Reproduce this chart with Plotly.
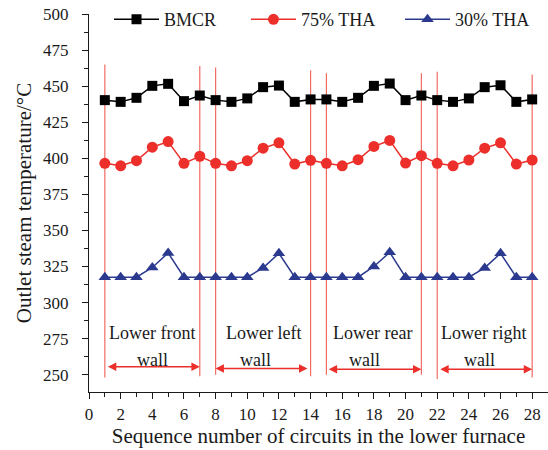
import plotly.graph_objects as go

# ---------------- data ----------------
circuits = list(range(1, 29))
bmcr = [440.3, 439.1, 441.9, 450.2, 451.6, 439.6, 443.5,
        440.3, 439.1, 441.5, 449.3, 450.4, 439.1, 440.8,
        440.8, 439.1, 441.9, 450.2, 451.8, 440.3, 443.5,
        440.3, 439.1, 441.5, 449.3, 450.6, 439.1, 440.8]
tha75 = [396.5, 394.8, 398.3, 407.7, 411.6, 396.5, 401.4,
         396.5, 394.8, 398.3, 407.0, 410.7, 396.0, 398.6,
         396.5, 394.8, 399.0, 408.2, 412.4, 396.7, 401.8,
         396.5, 394.8, 398.8, 407.0, 410.7, 396.0, 398.8]
tha30 = [317.6, 317.6, 317.6, 324.3, 334.4, 317.6, 317.6,
         317.6, 317.6, 317.6, 324.0, 334.1, 317.6, 317.6,
         317.6, 317.6, 317.6, 325.0, 334.8, 317.6, 317.6,
         317.6, 317.6, 317.6, 324.0, 334.1, 317.6, 317.6]
series_names = ["BMCR", "75% THA", "30% THA"]

# wall boundary markers
boundary_x = [1, 7, 8, 14, 15, 21, 22, 28]
boundary_top = [465, 464, 463, 461, 459, 459, 460, 458]
boundary_bottom = [248, 249, 250, 249, 250, 250, 247, 248]

# wall span arrows
wall_start = [1.1, 7.9, 15.05, 22.1]
wall_end = [7.0, 13.8, 21.0, 28.0]
wall_arrow_y = [255.5, 254.3, 253.8, 253.8]
wall_line1 = ["Lower front", "Lower left", "Lower rear", "Lower right"]
wall_line1_x = [4.0, 11.0, 17.9, 24.95]
wall_line2 = ["wall", "wall", "wall", "wall"]
wall_line2_x = [4.0, 10.5, 17.4, 24.7]

x_ticks = list(range(0, 29, 2))
y_ticks = list(range(250, 501, 25))

FONT = "Liberation Serif"
RED_LINE = "#f26b63"
RED = "#ec2f2a"
BLUE = "#2b3a8f"
TXT = "#1a1a1a"

legend_ids = ["legend", "legend2", "legend3"]
legend_x = [0.0436, 0.342, 0.6776]

fig = go.Figure()
fig.add_trace(go.Scatter(x=circuits, y=bmcr, name=series_names[0], mode="lines+markers",
                         line=dict(color="black", width=1.5), legend=legend_ids[0],
                         marker=dict(symbol="square", size=10, color="black")))
fig.add_trace(go.Scatter(x=circuits, y=tha75, name=series_names[1], mode="lines+markers",
                         line=dict(color=RED, width=1.5), legend=legend_ids[1],
                         marker=dict(symbol="circle", size=11, color=RED)))
fig.add_trace(go.Scatter(x=circuits, y=tha30, name=series_names[2], mode="lines+markers",
                         line=dict(color=BLUE, width=1.5), legend=legend_ids[2],
                         marker=dict(symbol="triangle-up", size=11, color=BLUE)))

shapes = []
for bx, bt, bb in zip(boundary_x, boundary_top, boundary_bottom):
    shapes.append(dict(type="line", xref="x", yref="y", x0=bx, x1=bx, y0=bb, y1=bt,
                       line=dict(color=RED_LINE, width=1.2), layer="below"))

annotations = []
for s, e, ay in zip(wall_start, wall_end, wall_arrow_y):
    annotations.append(dict(x=e, y=ay, ax=s, ay=ay, xref="x", yref="y", axref="x", ayref="y",
                            text="", showarrow=True, arrowhead=2, startarrowhead=2,
                            arrowside="end+start", arrowsize=1.2, startarrowsize=1.2,
                            arrowwidth=1.4, arrowcolor=RED))
for t, tx in zip(wall_line1, wall_line1_x):
    annotations.append(dict(x=tx, y=279, xref="x", yref="y", text=t, showarrow=False,
                            font=dict(family=FONT, size=18, color=TXT)))
for t, tx in zip(wall_line2, wall_line2_x):
    annotations.append(dict(x=tx, y=260, xref="x", yref="y", text=t, showarrow=False,
                            font=dict(family=FONT, size=18, color=TXT)))

legend_common = dict(orientation="h", xanchor="left", y=1.034, yanchor="top",
                     font=dict(family=FONT, size=18, color=TXT),
                     itemwidth=45, bgcolor="rgba(0,0,0,0)")

fig.update_layout(
    width=548, height=450,
    margin=dict(l=89, r=0, t=14, b=58),
    paper_bgcolor="white", plot_bgcolor="white",
    font=dict(family=FONT, size=17, color=TXT),
    shapes=shapes, annotations=annotations,
    showlegend=True,
    legend=dict(x=legend_x[0], **legend_common),
    legend2=dict(x=legend_x[1], **legend_common),
    legend3=dict(x=legend_x[2], **legend_common),
)
fig.update_xaxes(range=[0, 29], tickvals=x_ticks, ticktext=[str(v) for v in x_ticks],
                 ticks="outside", ticklen=6, tickwidth=1.3, tickcolor=TXT,
                 minor=dict(dtick=1, tick0=0, ticks="outside", ticklen=3.5, tickcolor=TXT, tickwidth=1.3),
                 showline=True, linecolor=TXT, linewidth=1.3, showgrid=False, zeroline=False,
                 title=dict(text="Sequence number of circuits in the lower furnace",
                            font=dict(family=FONT, size=21), standoff=4),
                 tickfont=dict(family=FONT, size=17))
fig.update_yaxes(range=[238, 500], tickvals=y_ticks, ticktext=[str(v) for v in y_ticks],
                 ticks="outside", ticklen=6, tickwidth=1.3, tickcolor=TXT,
                 minor=dict(dtick=12.5, tick0=250, ticks="outside", ticklen=3.5, tickcolor=TXT, tickwidth=1.3),
                 showline=True, linecolor=TXT, linewidth=1.3, showgrid=False, zeroline=False,
                 ticklabelstandoff=10,
                 title=dict(text="Outlet steam temperature/°C",
                            font=dict(family=FONT, size=21), standoff=5),
                 tickfont=dict(family=FONT, size=17))

fig.write_html("out.html")
